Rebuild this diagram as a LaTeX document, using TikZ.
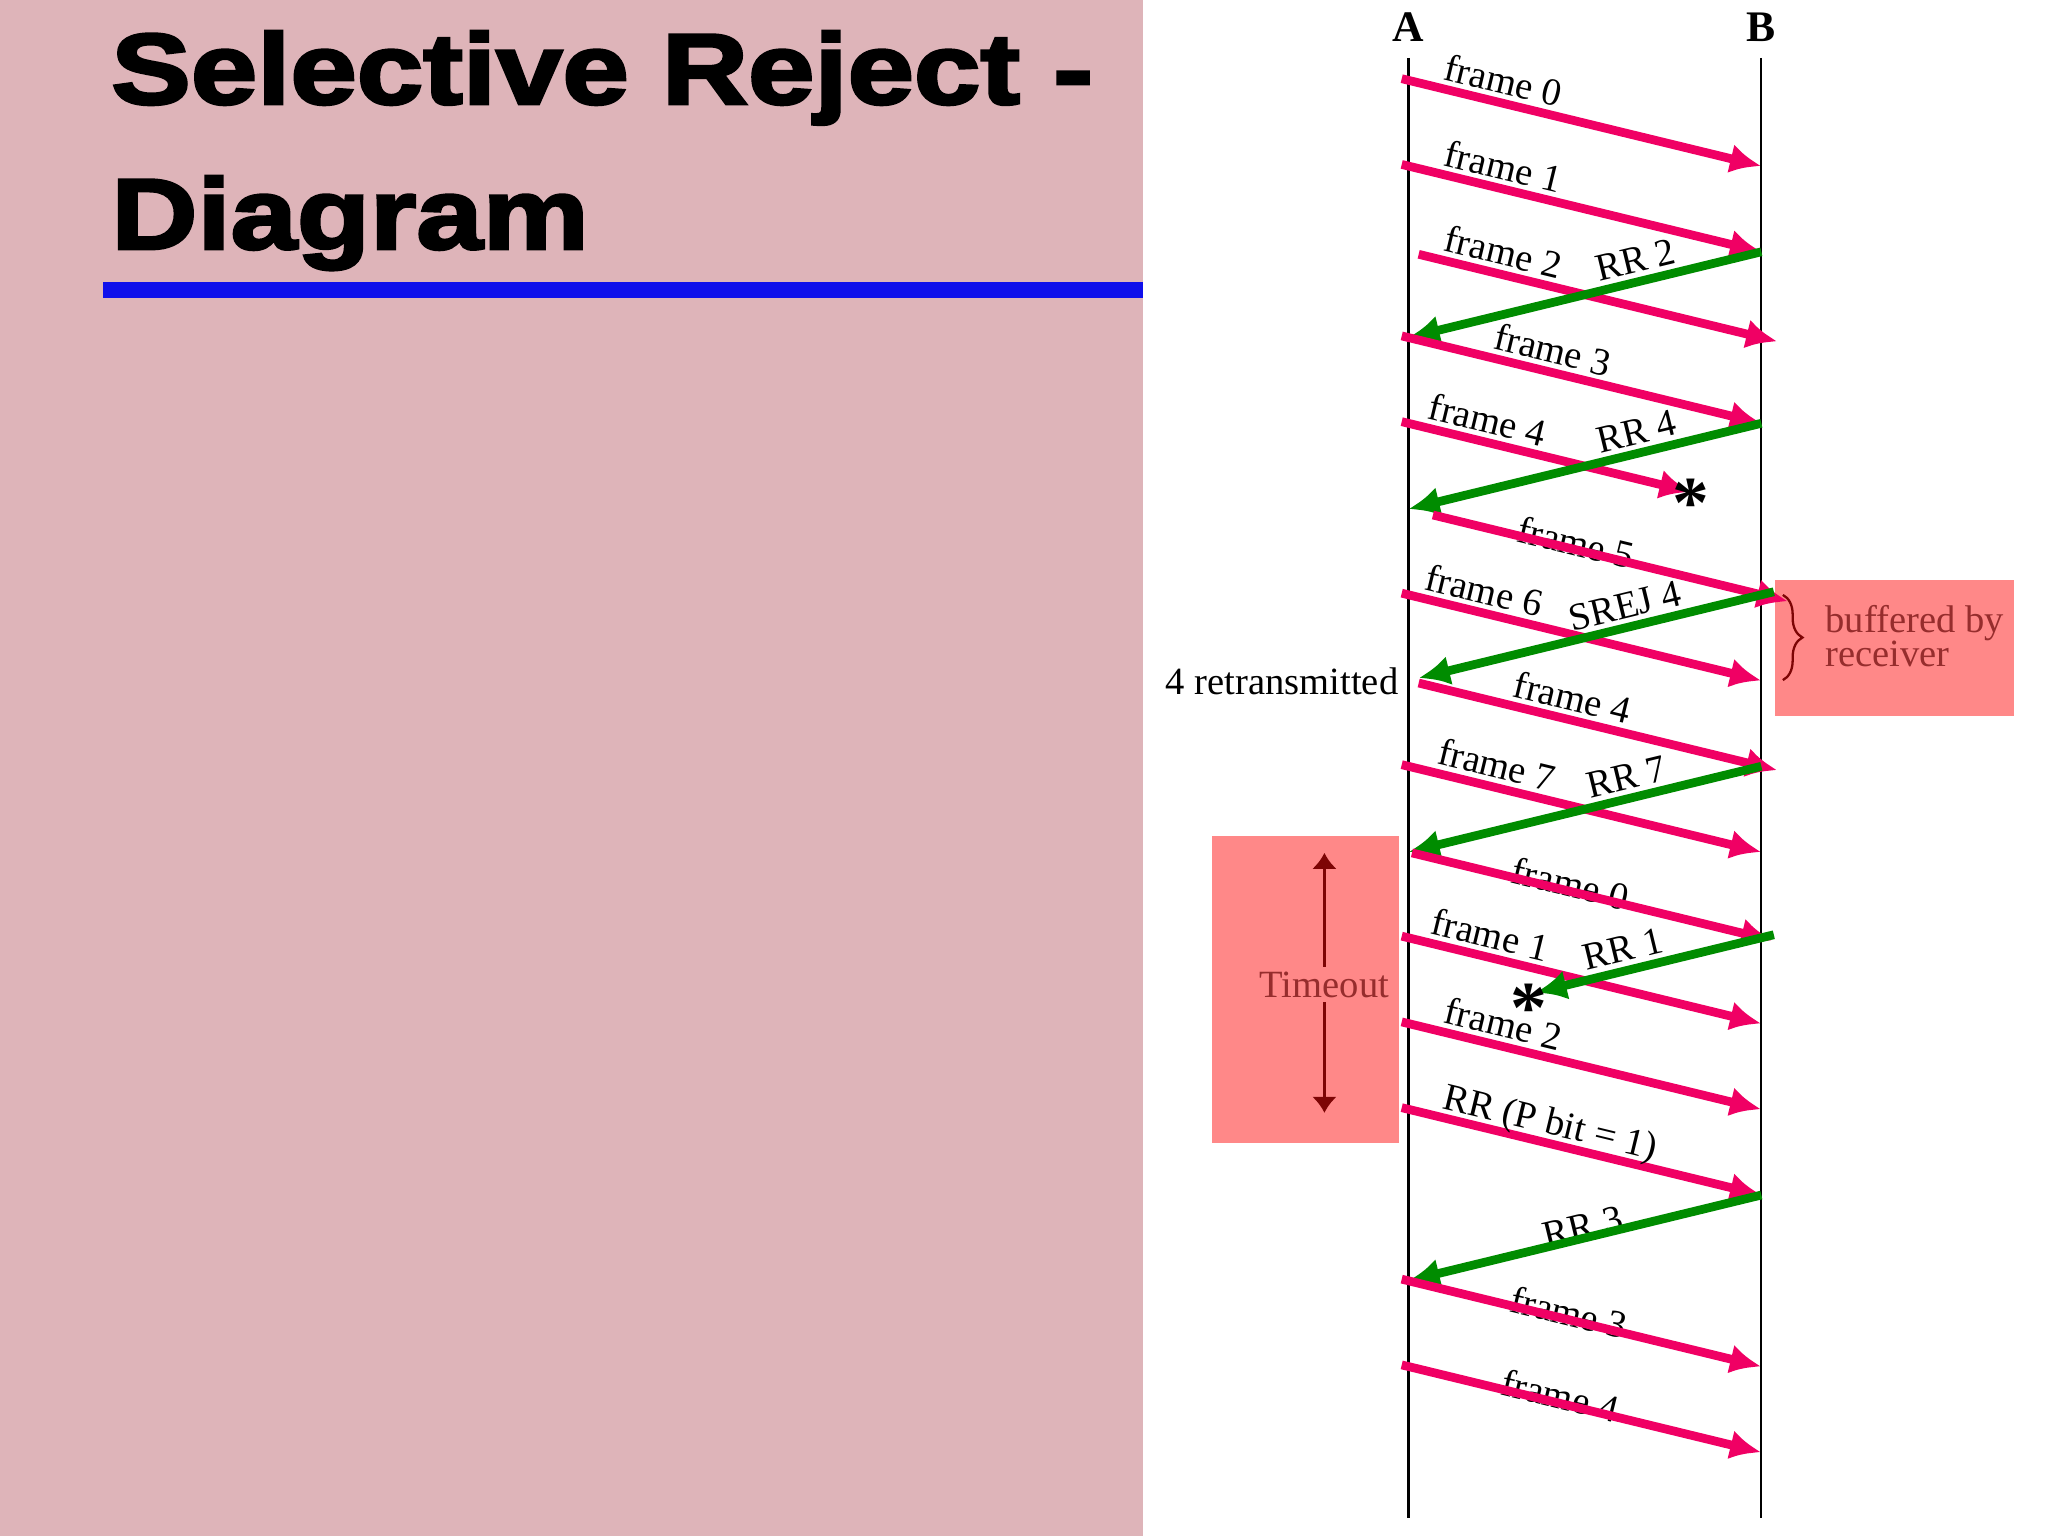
\documentclass[tikz,border=0pt]{standalone}
\usepackage{fontspec}
\setmainfont{Liberation Serif}
\newfontfamily\titlefont[FakeStretch=1.19,FakeBold=3]{Liberation Sans Bold}
\usetikzlibrary{arrows.meta,calc,positioning,decorations.pathreplacing}
\definecolor{bgpink}{RGB}{222,180,185}
\definecolor{boxpink}{RGB}{255,136,136}
\definecolor{framepink}{RGB}{240,0,100}
\definecolor{ackgreen}{RGB}{0,140,0}
\definecolor{titleblue}{RGB}{15,15,235}
\definecolor{notered}{RGB}{125,5,5}
\definecolor{notetxt}{RGB}{150,45,45}
\tikzset{
  titletext/.style={font=\titlefont\fontsize{21.85}{26}\selectfont,inner sep=0pt},
  station/.style={font=\fontsize{9.5}{10}\selectfont\bfseries,inner sep=3.3pt},
  lifeline/.style={line width=0.5pt},
  datamsg/.style={framepink,line width=1.9pt,-{Latex[length=6.8pt,width=6.4pt]},shorten <=-1.5pt},
  ackmsg/.style={ackgreen,line width=1.9pt,-{Latex[length=6.8pt,width=6.4pt]}},
  lbl/.style={font=\fontsize{8.4}{9}\selectfont,text=black,sloped,above,inner sep=1pt,text depth=0pt},
  plainlbl/.style={font=\fontsize{8.4}{9}\selectfont,inner sep=0pt},
  notebox/.style={fill=boxpink,inner sep=0pt},
  notetext/.style={font=\fontsize{8.4}{7.4}\selectfont,text=notetxt},
  timer/.style={notered,line width=0.7pt,{Latex[length=3.5pt,width=5.5pt]}-{Latex[length=3.5pt,width=5.5pt]}},
  lossmark/.style={font=\fontsize{16}{16}\selectfont\bfseries,inner sep=0pt}
}
\newcommand{\lossstar}{\raisebox{-7.8pt}[2pt][2pt]{*}}
\begin{document}
\begin{tikzpicture}
  \useasboundingbox (0,0) rectangle (15.68,-11.76);
  \fill[bgpink] (0,0) rectangle (8.75,-11.76);
  \fill[white] (8.75,0) rectangle (15.68,-11.76);
  \fill[titleblue] (0.79,-2.16) rectangle (8.75,-2.28);
  \node[titletext,anchor=base west] (title1) at (0.845,-0.795) {Selective Reject -};
  \node[titletext,anchor=base west] (title2) at (0.845,-1.905) {Diagram};

  % time slots on the two stations
  \foreach \k in {0,...,16}{
    \coordinate (a\k) at (10.783,{-0.615-0.6565*\k});
    \coordinate (b\k) at (13.485,{-0.615-0.6565*\k});
  }
  \node[station] (stA) at (10.783,-0.21) {A};
  \node[station] (stB) at (13.485,-0.21) {B};
  \coordinate (endA) at (10.783,-11.62);
  \coordinate (endB) at (13.485,-11.62);
  \draw[lifeline] (stA.south) -- (endA);
  \draw[lifeline] (stB.south) -- (endB);

  \node[notebox,minimum width=1.43cm,minimum height=2.35cm] (tobox) at (9.995,-7.575) {};
  \node[notebox,minimum width=1.83cm,minimum height=1.04cm] (bufbox) at (14.505,-4.96) {};
  \coordinate (toTop) at (10.14,-6.53);
  \coordinate (toBot) at (10.14,-8.52);
  \draw[timer] (toTop) -- (toBot);
  \node[notetext,fill=boxpink,inner sep=1pt] (tolbl) at (10.14,-7.54) {Timeout};
  \draw[notered,line width=0.5pt,decorate,decoration={brace,amplitude=0.15cm}] (13.65,-4.555) -- (13.65,-5.207);
  \node[notetext,align=left,anchor=west,inner sep=0pt] (buflbl) at (13.97,-4.87) {buffered by\\receiver};

  \draw[datamsg] (a0) -- (b1) node[lbl,pos=.254] {frame 0};
  \draw[datamsg] (a1) -- (b2) node[lbl,pos=.254] {frame 1};
  \draw[datamsg,shorten <=2.3pt,shorten >=-3.6pt] (a2) -- (b3) node[lbl,pos=.254] {frame 2};
  \draw[ackmsg] (b2) -- (a3) node[lbl,pos=.342] {RR 2};
  \draw[datamsg] (a3) -- (b4) node[lbl,pos=.395] {frame 3};
  \coordinate (lost4) at ($(a4)!0.8!(b5)$);
  \draw[datamsg] (a4) -- (lost4) node[lbl,pos=.262] {frame 4};
  \draw[ackmsg] (b4) -- (a5) node[lbl,pos=.339] {RR 4};
  \node[lossmark] (star1) at (lost4) {\lossstar};
  \path (a5) -- (b6) node[lbl,pos=.47,above=-2.5pt] (lbl5) {frame 5};
  \draw[datamsg,shorten <=5.5pt,shorten >=-6pt] (a5) -- (b6);
  \draw[datamsg] (a6) -- (b7) node[lbl,pos=.20] {frame 6};
  \draw[ackmsg,shorten <=-2.8pt,shorten >=2.3pt] (b6) -- (a7) node[lbl,pos=.372] {SREJ 4};
  \node[plainlbl,anchor=base east] (retx) at ($(a7)+(-0.07,-0.11)$) {4 retransmitted};
  \draw[datamsg,shorten <=2.3pt,shorten >=-3.6pt] (a7) -- (b8) node[lbl,pos=.45] {frame 4};
  \draw[datamsg] (a8) -- (b9) node[lbl,pos=.236] {frame 7};
  \draw[ackmsg] (b8) -- (a9) node[lbl,pos=.368] {RR 7};
  \path (a9) -- (b10) node[lbl,pos=.454,above=-2.5pt] (lbl0) {frame 0};
  \draw[datamsg,shorten <=0.8pt,shorten >=-2.5pt] (a9) -- (b10);
  \draw[datamsg] (a10) -- (b11) node[lbl,pos=.217] {frame 1};
  \coordinate (lost1) at ($(b10)!0.64!(a11)$);
  \draw[ackmsg,shorten <=-2.8pt] (b10) -- (lost1) node[lbl,pos=.59] {RR 1};
  \node[lossmark] (star2) at ($(lost1)+(-0.05,-0.03)$) {\lossstar};
  \draw[datamsg] (a11) -- (b12) node[lbl,pos=.254] {frame 2};
  \draw[datamsg] (a12) -- (b13) node[lbl,pos=.388] {RR (P bit = 1)};
  \path (b13) -- (a14) node[lbl,pos=.498,above=-1.5pt] (lblrr3) {RR 3};
  \draw[ackmsg] (b13) -- (a14);
  \path (a14) -- (b15) node[lbl,pos=.45,above=-2.5pt] (lbl3) {frame 3};
  \draw[datamsg] (a14) -- (b15);
  \path (a15) -- (b16) node[lbl,pos=.425,above=-2.5pt] (lbl4) {frame 4};
  \draw[datamsg] (a15) -- (b16);
\end{tikzpicture}
\end{document}
